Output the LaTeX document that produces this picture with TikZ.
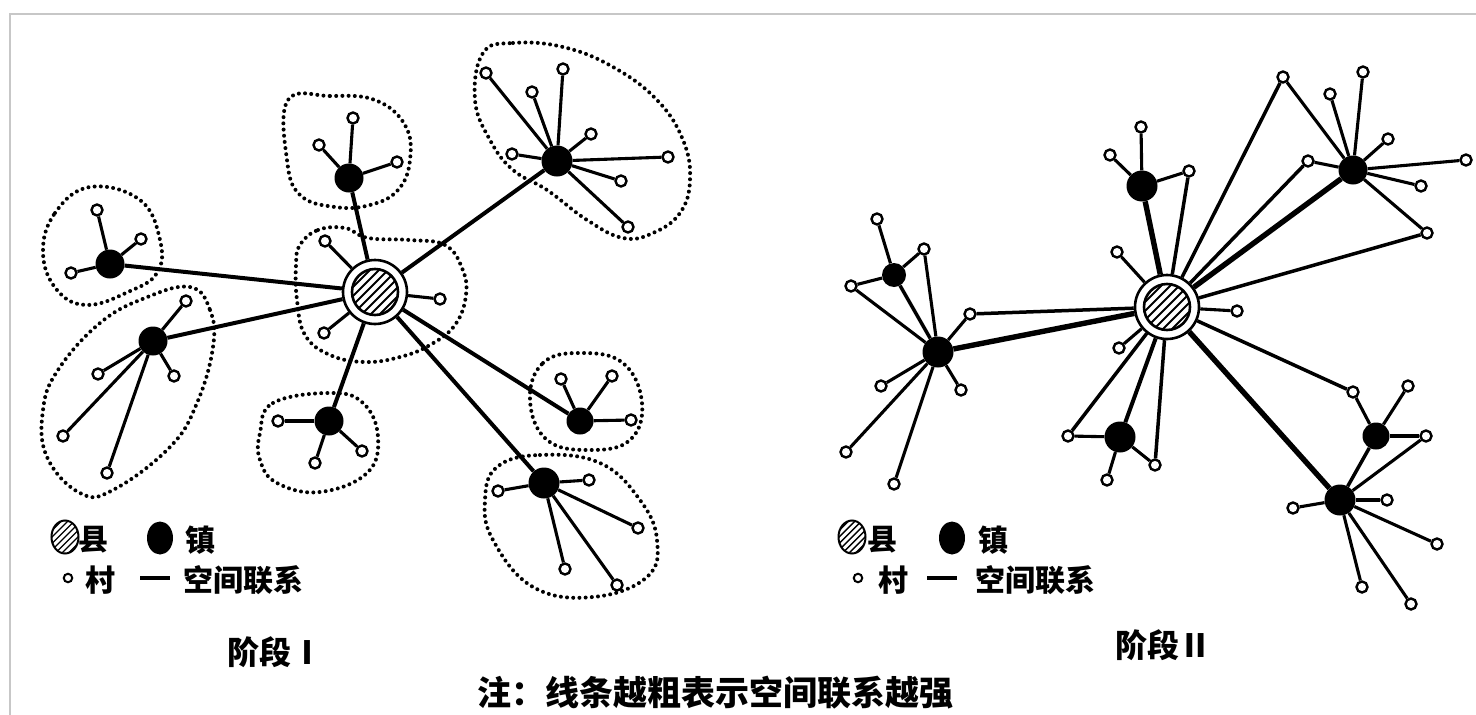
\documentclass[tikz,border=0pt]{standalone}
\usepackage{fontspec}
\usetikzlibrary{shapes.geometric}
\newfontfamily\cjk{Noto Sans CJK SC}
\begin{document}
\begin{tikzpicture}[x=1pt,y=-1pt,
  vil/.style={circle,draw,fill=white,line width=2.4pt,inner sep=0pt,minimum size=11pt},
  town/.style={circle,fill=black,inner sep=0pt,minimum size=#1},
  town/.default=29pt,
  county/.style={circle,draw,fill=white,line width=2.6pt,inner sep=0pt,minimum size=64pt,
    path picture={
      \draw[line width=2.6pt] (path picture bounding box.center) circle[radius=23pt];
      \begin{scope}
        \clip (path picture bounding box.center) circle[radius=23pt];
        \foreach \k in {-4,...,4}
          \draw[line width=1.8pt] ([xshift=\k*9pt-40pt,yshift=-40pt]path picture bounding box.center)
             -- ([xshift=\k*9pt+40pt,yshift=40pt]path picture bounding box.center);
      \end{scope}}},
  lcounty/.style={ellipse,draw,line width=2pt,inner sep=0pt,minimum width=27pt,minimum height=33pt,
    path picture={
      \foreach \k in {-5,...,5}
        \draw[line width=1.4pt] ([xshift=\k*6.5pt-30pt,yshift=-30pt]path picture bounding box.center)
           -- ([xshift=\k*6.5pt+30pt,yshift=30pt]path picture bounding box.center);}},
  ltown/.style={ellipse,fill=black,inner sep=0pt,minimum width=26pt,minimum height=33pt},
  lvil/.style={circle,draw,fill=white,line width=2pt,inner sep=0pt,minimum size=8.5pt},
  link/.style={line width=3.1pt},
  mid/.style={line width=3.5pt},
  strong/.style={line width=4pt},
  strongest/.style={line width=5.4pt},
  zone/.style={line width=4pt,dash pattern=on 0pt off 6.2pt,line cap=round},
  frame/.style={draw=black!22,line width=1.5pt},
  lbl/.style={font=\cjk\bfseries\fontsize{30}{32}\selectfont,inner sep=0pt},
  stage/.style={font=\cjk\bfseries\fontsize{32}{34}\selectfont,inner sep=0pt},
  note/.style={font=\cjk\bfseries\fontsize{34}{36}\selectfont,inner sep=0pt}
]
\useasboundingbox (0,0) rectangle (1476,715);
\fill[white] (0,0) rectangle (1476,715);
\draw[frame] (10,715) -- (10,14) -- (1476,14);

% ================= Stage I =================
% zones
\draw[zone] plot[smooth cycle,tension=0.7] coordinates {(288,100)(330,96)(375,100)(405,125)(410,160)(398,190)(370,205)(335,207)(300,195)(287,160)};
\draw[zone] plot[smooth cycle,tension=0.7] coordinates {(483,53)(513,43)(563,47)(613,67)(657,100)(683,140)(690,180)(680,213)(653,233)(623,238)(587,220)(547,190)(513,170)(490,140)(475,100)};
\draw[zone] plot[smooth cycle,tension=0.7] coordinates {(300,245)(318,230)(345,228)(368,238)(410,240)(445,245)(462,268)(466,295)(455,325)(430,345)(400,357)(365,362)(330,355)(305,335)(297,300)(296,265)};
\draw[zone] plot[smooth cycle,tension=0.7] coordinates {(43,253)(55,213)(90,187)(140,200)(160,240)(157,273)(128,292)(87,305)(57,290)};
\draw[zone] plot[smooth cycle,tension=0.7] coordinates {(190,287)(210,310)(213,347)(197,403)(170,447)(113,490)(80,493)(47,457)(43,410)(58,370)(100,323)(145,298)};
\draw[zone] plot[smooth cycle,tension=0.7] coordinates {(260,433)(273,403)(330,393)(363,403)(378,437)(367,473)(320,492)(277,483)(260,460)};
\draw[zone] plot[smooth cycle,tension=0.7] coordinates {(530,400)(543,363)(580,353)(623,363)(642,403)(630,440)(590,450)(547,440)};
\draw[zone] plot[smooth cycle,tension=0.7] coordinates {(497,467)(540,455)(600,463)(640,500)(657,540)(647,577)(593,597)(533,587)(493,540)(485,500)};

\node[county] (C1) at (375,292) {};
\node[town] (T1) at (349,178) {};
\node[town=31pt] (T2) at (557,161) {};
\node[town] (T3) at (110,264) {};
\node[town] (T4) at (153,341) {};
\node[town] (T5) at (329,421) {};
\node[town=27pt] (T6) at (580,421) {};
\node[town=31pt] (T7) at (544,483) {};

\node[vil] (c1a) at (325,241) {};
\node[vil] (c1b) at (440,299) {};
\node[vil] (c1c) at (324,333) {};
\node[vil] (t1a) at (353,118) {};
\node[vil] (t1b) at (319,145) {};
\node[vil] (t1c) at (397,162) {};
\node[vil] (t2a) at (486,73) {};
\node[vil] (t2b) at (563,69) {};
\node[vil] (t2c) at (532,92) {};
\node[vil] (t2d) at (591,134) {};
\node[vil] (t2e) at (512,154) {};
\node[vil] (t2f) at (668,157) {};
\node[vil] (t2g) at (621,181) {};
\node[vil] (t2h) at (628,227) {};
\node[vil] (t3a) at (97,210) {};
\node[vil] (t3b) at (141,239) {};
\node[vil] (t3c) at (71,273) {};
\node[vil] (t4a) at (186,301) {};
\node[vil] (t4b) at (98,374) {};
\node[vil] (t4c) at (174,376) {};
\node[vil] (t4d) at (63,436) {};
\node[vil] (t4e) at (107,473) {};
\node[vil] (t5a) at (278,421) {};
\node[vil] (t5b) at (362,451) {};
\node[vil] (t5c) at (315,463) {};
\node[vil] (t6a) at (561,379) {};
\node[vil] (t6b) at (612,376) {};
\node[vil] (t6c) at (631,420) {};
\node[vil] (t7a) at (498,491) {};
\node[vil] (t7b) at (589,480) {};
\node[vil] (t7c) at (638,528) {};
\node[vil] (t7d) at (565,569) {};
\node[vil] (t7e) at (617,585) {};

\foreach \t in {T1,T2,T3,T4,T5,T6,T7} \draw[strong] (C1) -- (\t);
\foreach \v in {c1a,c1b,c1c} \draw[link] (C1) -- (\v);
\foreach \v in {t1a,t1b,t1c} \draw[link] (T1) -- (\v);
\foreach \v in {t2a,t2b,t2c,t2d,t2e,t2f,t2g,t2h} \draw[link] (T2) -- (\v);
\foreach \v in {t3a,t3b,t3c} \draw[link] (T3) -- (\v);
\foreach \v in {t4a,t4b,t4c,t4d,t4e} \draw[link] (T4) -- (\v);
\foreach \v in {t5a,t5b,t5c} \draw[link] (T5) -- (\v);
\foreach \v in {t6a,t6b,t6c} \draw[link] (T6) -- (\v);
\foreach \v in {t7a,t7b,t7c,t7d,t7e} \draw[link] (T7) -- (\v);

% legend I
\node[lcounty] (L1c) at (65,537) {};
\node[lbl] (L1ct) at (93,540) {县};
\node[ltown] (L1t) at (160,538) {};
\node[lbl] (L1tt) at (200,540) {镇};
\node[lvil] (L1v) at (68,578) {};
\node[lbl] (L1vt) at (100,580) {村};
\coordinate (L1a) at (140,578);
\coordinate (L1b) at (170,578);
\draw[link] (L1a) -- (L1b);
\node[lbl] (L1lt) at (243,580) {空间联系};
\node[stage] (S1t) at (275,652) {阶段Ⅰ};

% ================= Stage II =================
\node[county] (C2) at (1167,307) {};
\node[town=31pt] (S1) at (1142,186) {};
\node[town] (S2) at (1353,170) {};
\node[town=24pt] (S3) at (894,275) {};
\node[town=31pt] (S4) at (938,352) {};
\node[town=31pt] (S5) at (1120,437) {};
\node[town=27pt] (S6) at (1376,436) {};
\node[town=31pt] (S7) at (1340,500) {};

\node[vil] (b1) at (1117,252) {};
\node[vil] (b2) at (1237,311) {};
\node[vil] (b3) at (1119,348) {};
\node[vil] (s1a) at (1141,127) {};
\node[vil] (s1b) at (1110,155) {};
\node[vil] (s1c) at (1189,171) {};
\node[vil] (s2a) at (1283,77) {};
\node[vil] (s2b) at (1363,72) {};
\node[vil] (s2c) at (1330,94) {};
\node[vil] (s2d) at (1388,139) {};
\node[vil] (s2e) at (1308,161) {};
\node[vil] (s2f) at (1466,160) {};
\node[vil] (s2g) at (1421,186) {};
\node[vil] (s2h) at (1427,233) {};
\node[vil] (s3a) at (877,219) {};
\node[vil] (s3b) at (924,249) {};
\node[vil] (s3c) at (851,286) {};
\node[vil] (s4a) at (970,314) {};
\node[vil] (s4b) at (881,386) {};
\node[vil] (s4c) at (961,390) {};
\node[vil] (s4d) at (846,452) {};
\node[vil] (s4e) at (894,484) {};
\node[vil] (s5a) at (1068,436) {};
\node[vil] (s5b) at (1107,480) {};
\node[vil] (s5c) at (1155,465) {};
\node[vil] (s6a) at (1353,392) {};
\node[vil] (s6b) at (1408,386) {};
\node[vil] (s6c) at (1426,436) {};
\node[vil] (s7a) at (1293,508) {};
\node[vil] (s7b) at (1387,500) {};
\node[vil] (s7c) at (1437,544) {};
\node[vil] (s7d) at (1362,587) {};
\node[vil] (s7e) at (1411,604) {};

\foreach \t in {S1,S2,S4,S7} \draw[strongest] (C2) -- (\t);
\draw[strong] (C2) -- (S5);
\foreach \v in {s1c,s2a,s2e,s2h,s4a,s5a,s5c,s6a} \draw[mid] (C2) -- (\v);
\foreach \v in {b1,b2,b3} \draw[link] (C2) -- (\v);
\foreach \v in {s1a,s1b,s1c} \draw[link] (S1) -- (\v);
\foreach \v in {s2a,s2b,s2c,s2d,s2e,s2f,s2g,s2h} \draw[link] (S2) -- (\v);
\foreach \v in {s3a,s3b,s3c} \draw[link] (S3) -- (\v);
\draw[mid] (S3) -- (S4);
\foreach \v in {s3b,s3c} \draw[link] (\v) -- (S4);
\foreach \v in {s4a,s4b,s4c,s4d,s4e} \draw[link] (S4) -- (\v);
\foreach \v in {s5a,s5b,s5c} \draw[link] (S5) -- (\v);
\foreach \v in {s6a,s6b,s6c} \draw[link] (S6) -- (\v);
\draw[mid] (S6) -- (S7);
\draw[link] (s6c) -- (S7);
\foreach \v in {s7a,s7b,s7c,s7d,s7e} \draw[link] (S7) -- (\v);

% legend II
\node[lcounty] (L2c) at (852,537) {};
\node[lbl] (L2ct) at (882,540) {县};
\node[ltown] (L2t) at (952,538) {};
\node[lbl] (L2tt) at (993,540) {镇};
\node[lvil] (L2v) at (858,578) {};
\node[lbl] (L2vt) at (893,580) {村};
\coordinate (L2a) at (927,578);
\coordinate (L2b) at (957,578);
\draw[link] (L2a) -- (L2b);
\node[lbl] (L2lt) at (1035,580) {空间联系};
\node[stage] (S2t) at (1163,645) {阶段Ⅱ};

\node[note] (N) at (715,693) {注：线条越粗表示空间联系越强};
\end{tikzpicture}
\end{document}
